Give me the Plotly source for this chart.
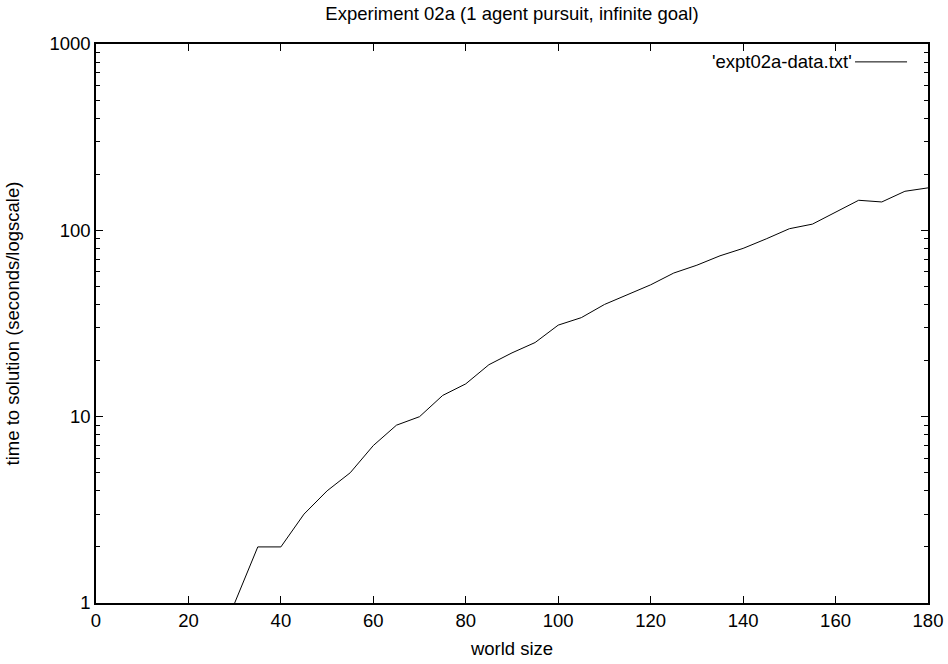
import plotly.graph_objects as go

world_size = [30, 35, 40, 45, 50, 55, 60, 65, 70, 75, 80, 85, 90, 95, 100, 105,
              110, 115, 120, 125, 130, 135, 140, 145, 150, 155, 160, 165, 170, 175, 180]
time_to_solution = [1, 2, 2, 3, 4, 5, 7, 9, 10, 13, 15, 19, 22, 25, 31, 34,
                    40, 45, 51, 59, 65, 73, 80, 90, 102, 108, 125, 145, 142, 162, 169]
x_ticks = [0, 20, 40, 60, 80, 100, 120, 140, 160, 180]
y_ticks = [1, 10, 100, 1000]
series_name = "'expt02a-data.txt'"

FONT = "Liberation Sans, Arial, sans-serif"
FS = 18.5

fig = go.Figure()
fig.add_trace(go.Scatter(x=world_size, y=time_to_solution, mode="lines",
                         line=dict(color="black", width=1), name=series_name,
                         showlegend=False, cliponaxis=True))

axis_common = dict(showgrid=False, zeroline=False, showline=True, linecolor="black",
                   linewidth=1.5, mirror="allticks", ticks="inside", ticklen=7,
                   tickwidth=1, tickcolor="black", automargin=False,
                   tickfont=dict(family=FONT, size=FS, color="black"))

fig.update_layout(
    width=948, height=664,
    margin=dict(l=96, r=20, t=44, b=61),
    paper_bgcolor="white", plot_bgcolor="white",
    font=dict(family=FONT, size=FS, color="black"),
    title=dict(text="Experiment 02a (1 agent pursuit, infinite goal)", x=0.5, xref="paper",
               xanchor="center", y=0.979, yref="container", yanchor="middle",
               font=dict(family=FONT, size=FS, color="black")),
    xaxis=dict(range=[0, 180], tickvals=x_ticks, title=dict(text="world size", standoff=12,
               font=dict(family=FONT, size=FS)), **axis_common),
    yaxis=dict(type="log", range=[0, 3], tickvals=y_ticks, ticktext=[str(v) for v in y_ticks],
               title=dict(text="time to solution (seconds/logscale)", standoff=25,
                          font=dict(family=FONT, size=FS)),
               minor=dict(ticks="inside", ticklen=4, tickcolor="black", tickwidth=1,
                          tickvals=[m * 10 ** e for e in range(3) for m in range(2, 10)]),
               **axis_common),
    showlegend=False,
)

# gnuplot-style key: text right-aligned, sample line to its right
fig.add_annotation(text=series_name, xref="paper", yref="paper", x=0.9105, y=0.968,
                   xanchor="right", yanchor="middle", showarrow=False,
                   font=dict(family=FONT, size=FS, color="black"))
fig.add_shape(type="line", xref="paper", yref="paper", x0=0.9123, x1=0.9748,
              y0=0.968, y1=0.968, line=dict(color="black", width=1))

fig.write_html("out.html")
